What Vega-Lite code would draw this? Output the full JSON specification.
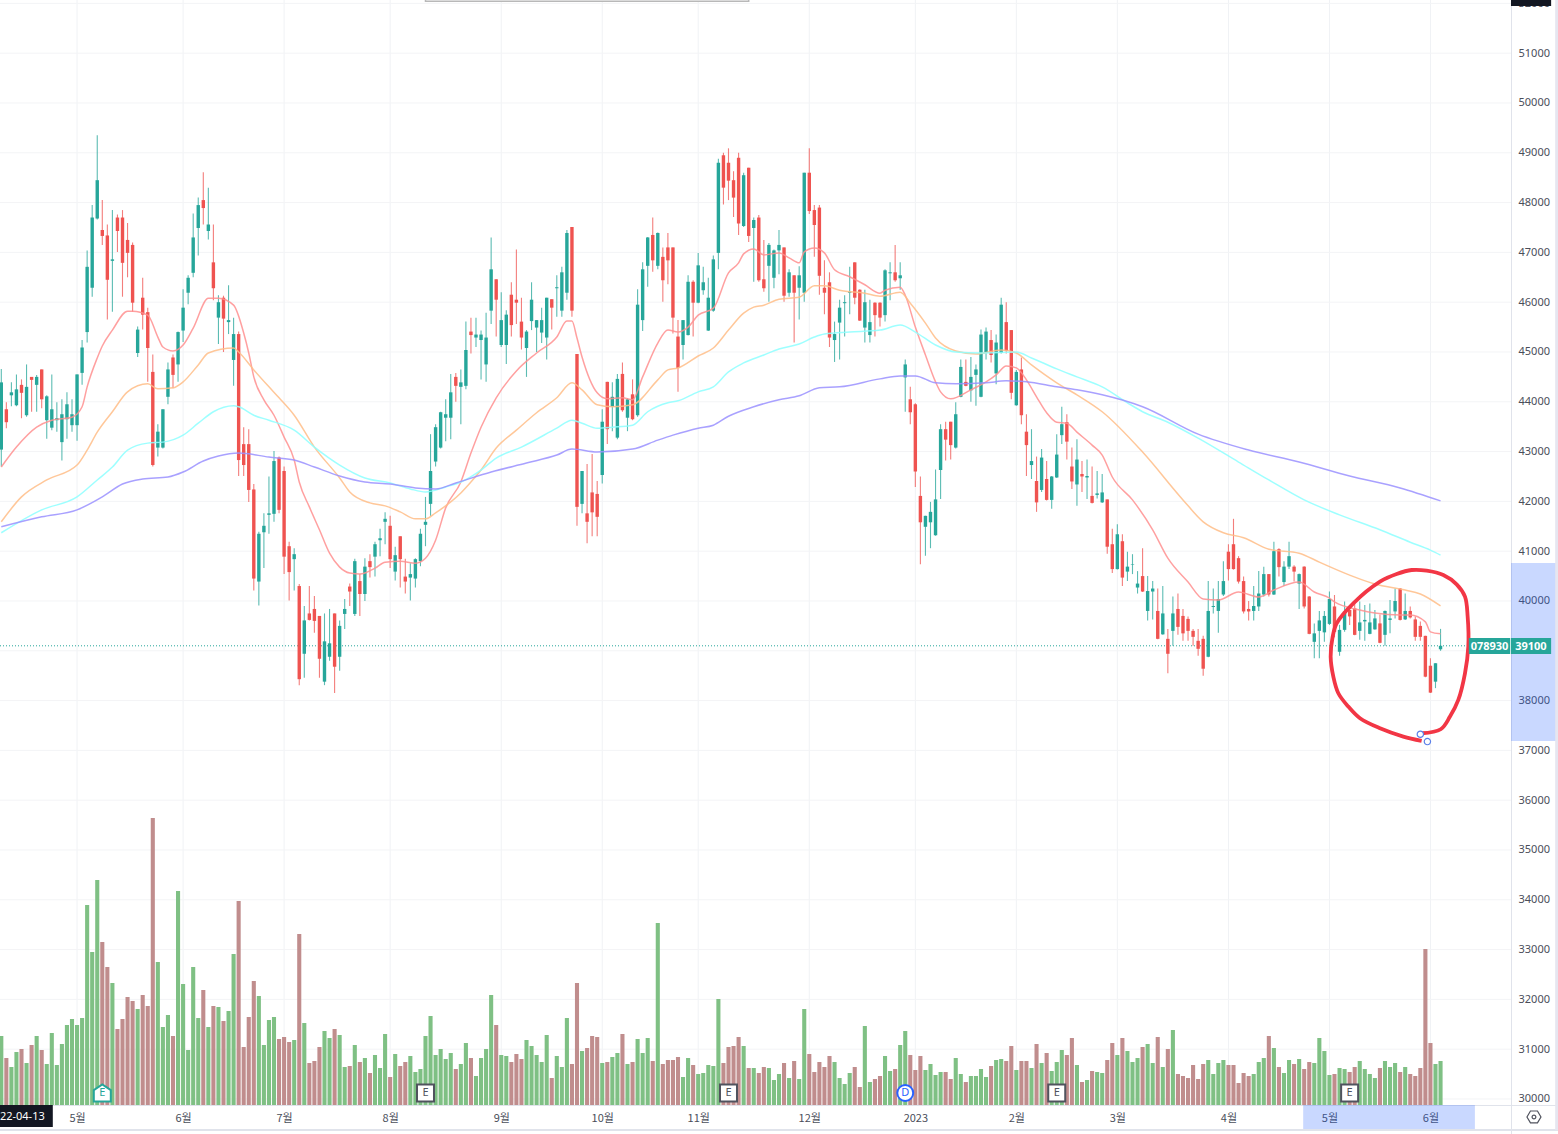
{"$schema":"https://vega.github.io/schema/vega-lite/v6.json","width":1558,"height":1134,"padding":0,"autosize":{"type":"none"},"background":"white","config":{"view":{"stroke":null}},
"datasets":{
"c":[
{"i":0,"o":43040,"h":44660,"l":42700,"c":44390,"v":69},{"i":1,"o":43850,"h":43990,"l":43470,"c":43590,"v":47},{"i":2,"o":44130,"h":44390,"l":43910,"c":44190,"v":38},{"i":3,"o":43930,"h":44550,"l":43910,"c":44250,"v":53},{"i":4,"o":44340,"h":44450,"l":43670,"c":44180,"v":56},{"i":5,"o":43730,"h":44750,"l":43700,"c":44300,"v":42},{"i":6,"o":44500,"h":44500,"l":43800,"c":44440,"v":60},{"i":7,"o":44340,"h":44540,"l":43800,"c":44500,"v":69},{"i":8,"o":44650,"h":44650,"l":43870,"c":44050,"v":55},{"i":9,"o":43630,"h":44130,"l":43260,"c":44110,"v":41},
{"i":10,"o":43480,"h":44550,"l":43430,"c":43850,"v":72},{"i":11,"o":43630,"h":43990,"l":43400,"c":43670,"v":40},{"i":12,"o":43190,"h":44050,"l":42820,"c":43750,"v":61},{"i":13,"o":43650,"h":44190,"l":43260,"c":43950,"v":80},{"i":14,"o":43530,"h":44050,"l":43400,"c":43750,"v":86},{"i":15,"o":43530,"h":44550,"l":43220,"c":44550,"v":80},{"i":16,"o":44580,"h":45240,"l":44340,"c":45090,"v":87},{"i":17,"o":45400,"h":47040,"l":45190,"c":46710,"v":200},{"i":18,"o":46290,"h":47950,"l":46110,"c":47700,"v":153},{"i":19,"o":47680,"h":49350,"l":47660,"c":48450,"v":225},
{"i":20,"o":47450,"h":48050,"l":47150,"c":47330,"v":163},{"i":21,"o":47340,"h":47560,"l":45650,"c":46450,"v":138},{"i":22,"o":46830,"h":47850,"l":45810,"c":46860,"v":122},{"i":23,"o":47700,"h":47760,"l":47010,"c":47430,"v":76},{"i":24,"o":47700,"h":47850,"l":46110,"c":46790,"v":86},{"i":25,"o":47250,"h":47590,"l":46500,"c":46990,"v":108},{"i":26,"o":47150,"h":47200,"l":45810,"c":45990,"v":104},{"i":27,"o":44980,"h":45510,"l":44900,"c":45450,"v":96},{"i":28,"o":46090,"h":46490,"l":45450,"c":45750,"v":110},{"i":29,"o":45800,"h":45890,"l":44400,"c":45080,"v":99},
{"i":30,"o":44600,"h":44950,"l":42700,"c":42730,"v":287},{"i":31,"o":43080,"h":43550,"l":42900,"c":43400,"v":143},{"i":32,"o":43080,"h":43850,"l":43060,"c":43850,"v":78},{"i":33,"o":44100,"h":44790,"l":43950,"c":44650,"v":90},{"i":34,"o":44890,"h":44950,"l":44270,"c":44540,"v":69},{"i":35,"o":44750,"h":45410,"l":44400,"c":45400,"v":214},{"i":36,"o":45430,"h":46260,"l":45200,"c":45890,"v":121},{"i":37,"o":46190,"h":46540,"l":45960,"c":46490,"v":55},{"i":38,"o":46590,"h":47780,"l":46500,"c":47300,"v":138},{"i":39,"o":47490,"h":48100,"l":46940,"c":47950,"v":87},
{"i":40,"o":48050,"h":48610,"l":47560,"c":47890,"v":115},{"i":41,"o":47430,"h":48300,"l":47260,"c":47560,"v":78},{"i":42,"o":46800,"h":47560,"l":46040,"c":46280,"v":99},{"i":43,"o":45690,"h":46140,"l":45160,"c":46000,"v":98},{"i":44,"o":46090,"h":46130,"l":45000,"c":45670,"v":84},{"i":45,"o":45600,"h":46340,"l":45360,"c":45640,"v":94},{"i":46,"o":44840,"h":45690,"l":44320,"c":45360,"v":151},{"i":47,"o":45360,"h":45410,"l":42510,"c":42830,"v":204},{"i":48,"o":43150,"h":43490,"l":42510,"c":42730,"v":58},{"i":49,"o":43150,"h":43450,"l":41990,"c":42230,"v":88},
{"i":50,"o":42240,"h":42350,"l":40210,"c":40450,"v":124},{"i":51,"o":40390,"h":41390,"l":39910,"c":41350,"v":109},{"i":52,"o":41380,"h":41760,"l":40660,"c":41510,"v":60},{"i":53,"o":41730,"h":42500,"l":41350,"c":41760,"v":85},{"i":54,"o":41750,"h":43010,"l":41590,"c":42810,"v":88},{"i":55,"o":42880,"h":42900,"l":41760,"c":41830,"v":66},{"i":56,"o":42610,"h":42700,"l":40540,"c":40890,"v":68},{"i":57,"o":41100,"h":41190,"l":40010,"c":40580,"v":63},{"i":58,"o":40840,"h":41060,"l":40210,"c":40940,"v":65},{"i":59,"o":40300,"h":40340,"l":38310,"c":38430,"v":171},
{"i":60,"o":38940,"h":39900,"l":38460,"c":39610,"v":82},{"i":61,"o":39750,"h":40300,"l":39610,"c":39620,"v":42},{"i":62,"o":39840,"h":40100,"l":39360,"c":39600,"v":44},{"i":63,"o":39700,"h":39700,"l":38460,"c":38840,"v":58},{"i":64,"o":38380,"h":39750,"l":38310,"c":39190,"v":74},{"i":65,"o":38880,"h":39840,"l":38800,"c":39150,"v":67},{"i":66,"o":39750,"h":39750,"l":38150,"c":38680,"v":76},{"i":67,"o":38880,"h":39610,"l":38600,"c":39500,"v":70},{"i":68,"o":39740,"h":40040,"l":39440,"c":39840,"v":38},{"i":69,"o":40290,"h":40350,"l":39900,"c":40190,"v":39},
{"i":70,"o":39740,"h":40850,"l":39700,"c":40800,"v":60},{"i":71,"o":40400,"h":40540,"l":39700,"c":40140,"v":43},{"i":72,"o":40140,"h":40860,"l":40000,"c":40690,"v":47},{"i":73,"o":40800,"h":40940,"l":40470,"c":40680,"v":32},{"i":74,"o":40890,"h":41190,"l":40490,"c":41140,"v":50},{"i":75,"o":41220,"h":41450,"l":40900,"c":41260,"v":37},{"i":76,"o":41590,"h":41780,"l":41140,"c":41650,"v":71},{"i":77,"o":41510,"h":41710,"l":40660,"c":40840,"v":28},{"i":78,"o":40590,"h":41090,"l":40410,"c":40920,"v":51},{"i":79,"o":41300,"h":41300,"l":40270,"c":40840,"v":39},
{"i":80,"o":40490,"h":40850,"l":40150,"c":40390,"v":43},{"i":81,"o":40470,"h":40760,"l":40010,"c":40540,"v":49},{"i":82,"o":40450,"h":40860,"l":40270,"c":40840,"v":33},{"i":83,"o":40800,"h":41450,"l":40700,"c":41350,"v":36},{"i":84,"o":41530,"h":42090,"l":41100,"c":41590,"v":69},{"i":85,"o":41950,"h":43350,"l":41710,"c":42610,"v":89},{"i":86,"o":42800,"h":43550,"l":42700,"c":43490,"v":50},{"i":87,"o":43080,"h":43800,"l":43060,"c":43790,"v":56},{"i":88,"o":43680,"h":44050,"l":43210,"c":43750,"v":46},{"i":89,"o":43680,"h":44560,"l":43250,"c":44190,"v":52},
{"i":90,"o":44500,"h":44580,"l":44000,"c":44320,"v":36},{"i":91,"o":44300,"h":44650,"l":43550,"c":44390,"v":41},{"i":92,"o":44320,"h":45610,"l":44250,"c":45040,"v":62},{"i":93,"o":45410,"h":45690,"l":44970,"c":45340,"v":47},{"i":94,"o":45290,"h":45690,"l":45100,"c":45350,"v":29},{"i":95,"o":45240,"h":45430,"l":44450,"c":45350,"v":47},{"i":96,"o":44750,"h":45790,"l":44400,"c":45290,"v":56},{"i":97,"o":45830,"h":47300,"l":45560,"c":46660,"v":110},{"i":98,"o":46460,"h":46460,"l":45310,"c":46050,"v":80},{"i":99,"o":45140,"h":46200,"l":45100,"c":45640,"v":50},
{"i":100,"o":45140,"h":45840,"l":44760,"c":45750,"v":49},{"i":101,"o":46150,"h":46400,"l":45310,"c":45540,"v":43},{"i":102,"o":46050,"h":47060,"l":45560,"c":45990,"v":51},{"i":103,"o":45610,"h":46090,"l":45050,"c":45290,"v":46},{"i":104,"o":45080,"h":45440,"l":44500,"c":45410,"v":65},{"i":105,"o":45620,"h":46400,"l":45440,"c":46050,"v":59},{"i":106,"o":45490,"h":45640,"l":45000,"c":45640,"v":50},{"i":107,"o":45390,"h":45890,"l":45180,"c":45640,"v":43},{"i":108,"o":45290,"h":46090,"l":44850,"c":46090,"v":70},{"i":109,"o":46060,"h":46060,"l":45450,"c":45890,"v":27},
{"i":110,"o":46280,"h":46540,"l":45710,"c":46300,"v":49},{"i":111,"o":45830,"h":46710,"l":45710,"c":46600,"v":38},{"i":112,"o":46190,"h":47450,"l":46050,"c":47390,"v":87},{"i":113,"o":47510,"h":47510,"l":45710,"c":45830,"v":41},{"i":114,"o":44960,"h":44960,"l":41510,"c":41890,"v":122},{"i":115,"o":41950,"h":42610,"l":41760,"c":42610,"v":54},{"i":116,"o":41760,"h":42750,"l":41160,"c":41590,"v":57},{"i":117,"o":42180,"h":42950,"l":41300,"c":41780,"v":69},{"i":118,"o":42150,"h":42410,"l":41300,"c":41690,"v":68},{"i":119,"o":42530,"h":43850,"l":42360,"c":43600,"v":42},
{"i":120,"o":44400,"h":44400,"l":43150,"c":43450,"v":43},{"i":121,"o":43900,"h":44390,"l":43410,"c":44100,"v":48},{"i":122,"o":43280,"h":44560,"l":43250,"c":44460,"v":52},{"i":123,"o":44560,"h":44790,"l":43800,"c":43830,"v":71},{"i":124,"o":43680,"h":44070,"l":43410,"c":44050,"v":41},{"i":125,"o":44150,"h":44450,"l":43630,"c":43650,"v":43},{"i":126,"o":43730,"h":46260,"l":43700,"c":45950,"v":66},{"i":127,"o":45640,"h":46800,"l":45420,"c":46660,"v":52},{"i":128,"o":46730,"h":47310,"l":46310,"c":47300,"v":67},{"i":129,"o":47350,"h":47700,"l":46610,"c":46840,"v":44},
{"i":130,"o":46730,"h":47400,"l":46660,"c":47390,"v":182},{"i":131,"o":46910,"h":47100,"l":46010,"c":46440,"v":41},{"i":132,"o":47100,"h":47390,"l":46360,"c":46840,"v":45},{"i":133,"o":47100,"h":47100,"l":45370,"c":45690,"v":45},{"i":134,"o":45310,"h":45640,"l":44200,"c":44680,"v":48},{"i":135,"o":45140,"h":45640,"l":44850,"c":45640,"v":28},{"i":136,"o":45340,"h":46540,"l":45330,"c":46410,"v":47},{"i":137,"o":46410,"h":46440,"l":45310,"c":45990,"v":40},{"i":138,"o":45990,"h":46990,"l":45980,"c":46740,"v":31},{"i":139,"o":46240,"h":46710,"l":46150,"c":46400,"v":32},
{"i":140,"o":45430,"h":46490,"l":45420,"c":46090,"v":40},{"i":141,"o":45830,"h":46940,"l":45810,"c":46860,"v":39},{"i":142,"o":46990,"h":48880,"l":46660,"c":48800,"v":106},{"i":143,"o":48950,"h":49000,"l":47960,"c":48300,"v":42},{"i":144,"o":48800,"h":49090,"l":48050,"c":48440,"v":58},{"i":145,"o":48450,"h":48630,"l":47710,"c":48100,"v":59},{"i":146,"o":48900,"h":49000,"l":47350,"c":47580,"v":68},{"i":147,"o":47530,"h":48600,"l":47510,"c":48550,"v":59},{"i":148,"o":48700,"h":48700,"l":47210,"c":47330,"v":37},{"i":149,"o":47490,"h":47700,"l":46410,"c":47650,"v":37},
{"i":150,"o":47700,"h":47750,"l":46410,"c":46440,"v":32},{"i":151,"o":46460,"h":47250,"l":46210,"c":46280,"v":38},{"i":152,"o":46730,"h":47190,"l":46010,"c":47150,"v":37},{"i":153,"o":46490,"h":47060,"l":46280,"c":47040,"v":25},{"i":154,"o":47040,"h":47450,"l":46560,"c":47150,"v":31},{"i":155,"o":47100,"h":47100,"l":46010,"c":46130,"v":42},{"i":156,"o":46190,"h":46660,"l":46110,"c":46600,"v":27},{"i":157,"o":46540,"h":46540,"l":45190,"c":46190,"v":44},{"i":158,"o":46290,"h":46720,"l":45650,"c":46540,"v":26},{"i":159,"o":46190,"h":48600,"l":46010,"c":48600,"v":96},
{"i":160,"o":48600,"h":49090,"l":47770,"c":47830,"v":51},{"i":161,"o":47850,"h":47950,"l":46910,"c":47550,"v":33},{"i":162,"o":47900,"h":47950,"l":46150,"c":46530,"v":43},{"i":163,"o":46290,"h":46840,"l":45760,"c":46190,"v":38},{"i":164,"o":46400,"h":46600,"l":45100,"c":45290,"v":49},{"i":165,"o":45240,"h":45610,"l":44800,"c":45360,"v":43},{"i":166,"o":45590,"h":46050,"l":44850,"c":45890,"v":27},{"i":167,"o":45980,"h":46140,"l":45310,"c":46000,"v":21},{"i":168,"o":46190,"h":46710,"l":45760,"c":46210,"v":32},{"i":169,"o":46800,"h":46800,"l":45960,"c":46090,"v":38},
{"i":170,"o":46250,"h":46260,"l":45620,"c":45630,"v":18},{"i":171,"o":45490,"h":46250,"l":45190,"c":46000,"v":79},{"i":172,"o":45340,"h":46050,"l":45190,"c":45600,"v":23},{"i":173,"o":45990,"h":46000,"l":45310,"c":45740,"v":26},{"i":174,"o":45990,"h":46000,"l":45510,"c":45690,"v":29},{"i":175,"o":45740,"h":46660,"l":45610,"c":46640,"v":49},{"i":176,"o":46580,"h":46800,"l":46040,"c":46600,"v":34},{"i":177,"o":46600,"h":47150,"l":46410,"c":46440,"v":36},{"i":178,"o":46480,"h":46800,"l":46250,"c":46540,"v":60},{"i":179,"o":44490,"h":44850,"l":43800,"c":44750,"v":74},
{"i":180,"o":44050,"h":44300,"l":43550,"c":43790,"v":50},{"i":181,"o":43950,"h":43970,"l":42290,"c":42600,"v":35},{"i":182,"o":42110,"h":42500,"l":40740,"c":41580,"v":49},{"i":183,"o":41490,"h":41710,"l":40910,"c":41710,"v":35},{"i":184,"o":41580,"h":41990,"l":41060,"c":41790,"v":41},{"i":185,"o":41320,"h":42640,"l":41310,"c":42040,"v":30},{"i":186,"o":42630,"h":43550,"l":42050,"c":43450,"v":33},{"i":187,"o":43450,"h":43600,"l":42820,"c":43240,"v":33},{"i":188,"o":43600,"h":43600,"l":42840,"c":43130,"v":26},{"i":189,"o":43080,"h":43990,"l":43060,"c":43750,"v":47},
{"i":190,"o":44100,"h":44850,"l":44090,"c":44700,"v":31},{"i":191,"o":44400,"h":44850,"l":44310,"c":44320,"v":23},{"i":192,"o":44230,"h":44900,"l":44000,"c":44500,"v":29},{"i":193,"o":44540,"h":44750,"l":43920,"c":44650,"v":29},{"i":194,"o":44100,"h":45450,"l":44090,"c":45350,"v":36},{"i":195,"o":44980,"h":45490,"l":44850,"c":45410,"v":28},{"i":196,"o":45240,"h":45440,"l":44790,"c":44940,"v":39},{"i":197,"o":44570,"h":45350,"l":44350,"c":45190,"v":45},{"i":198,"o":44980,"h":46090,"l":44970,"c":45950,"v":46},{"i":199,"o":45600,"h":46000,"l":44970,"c":45020,"v":44},
{"i":200,"o":45440,"h":45440,"l":44050,"c":44180,"v":59},{"i":201,"o":43930,"h":44640,"l":43920,"c":44600,"v":35},{"i":202,"o":44650,"h":44890,"l":43550,"c":43730,"v":44},{"i":203,"o":43400,"h":43750,"l":42510,"c":43130,"v":44},{"i":204,"o":42730,"h":43450,"l":42450,"c":42810,"v":37},{"i":205,"o":42410,"h":42900,"l":41790,"c":41980,"v":61},{"i":206,"o":42230,"h":43050,"l":42190,"c":42880,"v":42},{"i":207,"o":42450,"h":42810,"l":42020,"c":42030,"v":52},{"i":208,"o":42030,"h":42510,"l":41850,"c":42500,"v":34},{"i":209,"o":42480,"h":43350,"l":42470,"c":42940,"v":43},
{"i":210,"o":43330,"h":43900,"l":43150,"c":43550,"v":55},{"i":211,"o":43590,"h":43750,"l":42840,"c":43200,"v":50},{"i":212,"o":42700,"h":43080,"l":42250,"c":42400,"v":67},{"i":213,"o":42340,"h":43250,"l":41910,"c":42840,"v":40},{"i":214,"o":42550,"h":42810,"l":42190,"c":42500,"v":23},{"i":215,"o":42480,"h":42840,"l":42050,"c":42510,"v":25},{"i":216,"o":42110,"h":42700,"l":41960,"c":41970,"v":34},{"i":217,"o":42130,"h":42610,"l":42060,"c":42160,"v":33},{"i":218,"o":41980,"h":42550,"l":41970,"c":42180,"v":32},{"i":219,"o":42040,"h":42040,"l":40950,"c":41090,"v":45},
{"i":220,"o":41140,"h":41450,"l":40560,"c":40640,"v":62},{"i":221,"o":40640,"h":41540,"l":40630,"c":41340,"v":50},{"i":222,"o":41200,"h":41340,"l":40300,"c":40470,"v":67},{"i":223,"o":40590,"h":40990,"l":40400,"c":40690,"v":54},{"i":224,"o":40730,"h":40940,"l":40540,"c":40740,"v":43},{"i":225,"o":40270,"h":40600,"l":40150,"c":40350,"v":47},{"i":226,"o":40500,"h":41060,"l":40180,"c":40190,"v":58},{"i":227,"o":39800,"h":40500,"l":39610,"c":40200,"v":61},{"i":228,"o":40190,"h":40400,"l":39630,"c":40250,"v":42},{"i":229,"o":39800,"h":40250,"l":39230,"c":39240,"v":68},
{"i":230,"o":39330,"h":40300,"l":39320,"c":39750,"v":38},{"i":231,"o":39240,"h":39440,"l":38550,"c":38940,"v":56},{"i":232,"o":39400,"h":40090,"l":39100,"c":39750,"v":75},{"i":233,"o":39840,"h":40150,"l":39320,"c":39480,"v":31},{"i":234,"o":39700,"h":39840,"l":39200,"c":39350,"v":29},{"i":235,"o":39640,"h":39690,"l":39200,"c":39400,"v":27},{"i":236,"o":39400,"h":39440,"l":39100,"c":39280,"v":40},{"i":237,"o":39200,"h":39440,"l":38900,"c":39040,"v":26},{"i":238,"o":39240,"h":39300,"l":38500,"c":38640,"v":41},{"i":239,"o":38880,"h":40400,"l":38870,"c":39800,"v":45},
{"i":240,"o":39880,"h":40250,"l":39750,"c":39900,"v":31},{"i":241,"o":39800,"h":40400,"l":39360,"c":40040,"v":42},{"i":242,"o":40130,"h":40800,"l":40100,"c":40400,"v":45},{"i":243,"o":40990,"h":41140,"l":40410,"c":40640,"v":40},{"i":244,"o":41140,"h":41650,"l":40630,"c":40640,"v":40},{"i":245,"o":40860,"h":40900,"l":40350,"c":40390,"v":22},{"i":246,"o":40400,"h":40490,"l":39750,"c":39790,"v":32},{"i":247,"o":39840,"h":40000,"l":39610,"c":39790,"v":29},{"i":248,"o":39800,"h":40300,"l":39610,"c":39900,"v":31},{"i":249,"o":39890,"h":40600,"l":39800,"c":40150,"v":43},
{"i":250,"o":40130,"h":40690,"l":40090,"c":40540,"v":47},{"i":251,"o":40540,"h":40540,"l":40090,"c":40130,"v":69},{"i":252,"o":40130,"h":41190,"l":40120,"c":41000,"v":57},{"i":253,"o":41040,"h":41060,"l":40490,"c":40680,"v":38},{"i":254,"o":40380,"h":40800,"l":40300,"c":40690,"v":32},{"i":255,"o":40690,"h":41190,"l":40640,"c":40900,"v":45},{"i":256,"o":40690,"h":40720,"l":40390,"c":40590,"v":41},{"i":257,"o":40350,"h":40550,"l":39840,"c":40540,"v":46},{"i":258,"o":40690,"h":40700,"l":39850,"c":39890,"v":36},{"i":259,"o":40090,"h":40100,"l":39330,"c":39340,"v":43},
{"i":260,"o":39180,"h":39550,"l":38850,"c":39350,"v":42},{"i":261,"o":39400,"h":39800,"l":38850,"c":39610,"v":67},{"i":262,"o":39370,"h":39800,"l":39180,"c":39700,"v":54},{"i":263,"o":39540,"h":40190,"l":39520,"c":40040,"v":30},{"i":264,"o":39890,"h":40120,"l":39270,"c":39380,"v":31},{"i":265,"o":38980,"h":39520,"l":38900,"c":39420,"v":37},{"i":266,"o":39420,"h":39990,"l":39380,"c":39790,"v":36},{"i":267,"o":39820,"h":39850,"l":39520,"c":39690,"v":33},{"i":268,"o":39850,"h":39950,"l":39310,"c":39320,"v":38},{"i":269,"o":39400,"h":39990,"l":39220,"c":39570,"v":44},
{"i":270,"o":39590,"h":39920,"l":39200,"c":39620,"v":36},{"i":271,"o":39340,"h":39950,"l":39330,"c":39570,"v":31},{"i":272,"o":39430,"h":39820,"l":39420,"c":39650,"v":27},{"i":273,"o":39550,"h":39730,"l":39150,"c":39160,"v":37},{"i":274,"o":39320,"h":39810,"l":39100,"c":39800,"v":44},{"i":275,"o":39620,"h":40020,"l":39350,"c":39650,"v":38},{"i":276,"o":39790,"h":40250,"l":39650,"c":40000,"v":42},{"i":277,"o":40250,"h":40260,"l":39610,"c":39620,"v":33},{"i":278,"o":39630,"h":40150,"l":39620,"c":39800,"v":38},{"i":279,"o":39800,"h":39890,"l":39650,"c":39670,"v":31},
{"i":280,"o":39630,"h":39690,"l":39200,"c":39280,"v":29},{"i":281,"o":39500,"h":39590,"l":39200,"c":39280,"v":37},{"i":282,"o":39300,"h":39300,"l":38470,"c":38480,"v":156},{"i":283,"o":38700,"h":38850,"l":38150,"c":38160,"v":62},{"i":284,"o":38380,"h":38750,"l":38250,"c":38750,"v":41},{"i":285,"o":39030,"h":39440,"l":39000,"c":39100,"v":44}
],
"ma":[
{"s":"a","i":0,"p":42690},{"s":"a","i":3,"p":43090},{"s":"a","i":7,"p":43490},{"s":"a","i":10,"p":43630},{"s":"a","i":14,"p":43690},{"s":"a","i":16,"p":43900},{"s":"a","i":17,"p":44300},{"s":"a","i":19,"p":44880},{"s":"a","i":20,"p":45120},{"s":"a","i":22,"p":45440},{"s":"a","i":25,"p":45820},{"s":"a","i":26,"p":45820},{"s":"a","i":29,"p":45740},{"s":"a","i":31,"p":45300},{"s":"a","i":32,"p":45100},{"s":"a","i":34,"p":45020},{"s":"a","i":36,"p":45140},{"s":"a","i":38,"p":45480},{"s":"a","i":41,"p":46080},{"s":"a","i":43,"p":46080},{"s":"a","i":46,"p":45940},{"s":"a","i":48,"p":45380},{"s":"a","i":49,"p":44980},{"s":"a","i":50,"p":44500},{"s":"a","i":52,"p":44040},{"s":"a","i":54,"p":43730},{"s":"a","i":56,"p":43290},{"s":"a","i":58,"p":42830},{"s":"a","i":59,"p":42390},{"s":"a","i":61,"p":41890},{"s":"a","i":63,"p":41430},{"s":"a","i":65,"p":40960},{"s":"a","i":67,"p":40680},{"s":"a","i":69,"p":40560},{"s":"a","i":71,"p":40540},{"s":"a","i":74,"p":40660},{"s":"a","i":76,"p":40780},{"s":"a","i":79,"p":40800},{"s":"a","i":82,"p":40760},{"s":"a","i":84,"p":40860},{"s":"a","i":86,"p":41220},{"s":"a","i":88,"p":41870},{"s":"a","i":91,"p":42390},{"s":"a","i":93,"p":42970},{"s":"a","i":95,"p":43490},{"s":"a","i":98,"p":44080},{"s":"a","i":102,"p":44620},{"s":"a","i":106,"p":44980},{"s":"a","i":110,"p":45300},{"s":"a","i":112,"p":45620},{"s":"a","i":113,"p":45620},{"s":"a","i":114,"p":45280},{"s":"a","i":115,"p":44900},{"s":"a","i":118,"p":44180},{"s":"a","i":120,"p":44060},{"s":"a","i":123,"p":44080},{"s":"a","i":125,"p":44040},{"s":"a","i":127,"p":44500},{"s":"a","i":130,"p":45180},{"s":"a","i":132,"p":45440},{"s":"a","i":134,"p":45400},{"s":"a","i":136,"p":45500},{"s":"a","i":138,"p":45740},{"s":"a","i":141,"p":45880},{"s":"a","i":144,"p":46590},{"s":"a","i":146,"p":46790},{"s":"a","i":147,"p":46970},{"s":"a","i":149,"p":47070},{"s":"a","i":151,"p":46950},{"s":"a","i":154,"p":46990},{"s":"a","i":156,"p":46890},{"s":"a","i":158,"p":46790},{"s":"a","i":159,"p":47010},{"s":"a","i":161,"p":47090},{"s":"a","i":163,"p":46990},{"s":"a","i":165,"p":46650},{"s":"a","i":168,"p":46510},{"s":"a","i":171,"p":46350},{"s":"a","i":174,"p":46180},{"s":"a","i":175,"p":46240},{"s":"a","i":178,"p":46300},{"s":"a","i":179,"p":46140},{"s":"a","i":181,"p":45500},{"s":"a","i":183,"p":44940},{"s":"a","i":185,"p":44400},{"s":"a","i":186,"p":44200},{"s":"a","i":188,"p":44060},{"s":"a","i":192,"p":44240},{"s":"a","i":195,"p":44400},{"s":"a","i":197,"p":44540},{"s":"a","i":199,"p":44720},{"s":"a","i":201,"p":44680},{"s":"a","i":203,"p":44440},{"s":"a","i":205,"p":44100},{"s":"a","i":207,"p":43780},{"s":"a","i":209,"p":43590},{"s":"a","i":211,"p":43570},{"s":"a","i":213,"p":43390},{"s":"a","i":216,"p":43130},{"s":"a","i":218,"p":42930},{"s":"a","i":220,"p":42490},{"s":"a","i":224,"p":42030},{"s":"a","i":228,"p":41430},{"s":"a","i":231,"p":40860},{"s":"a","i":235,"p":40380},{"s":"a","i":238,"p":40040},{"s":"a","i":241,"p":40020},{"s":"a","i":245,"p":40180},{"s":"a","i":249,"p":40080},{"s":"a","i":252,"p":40220},{"s":"a","i":257,"p":40380},{"s":"a","i":260,"p":40180},{"s":"a","i":263,"p":40060},{"s":"a","i":264,"p":39980},{"s":"a","i":269,"p":39820},{"s":"a","i":272,"p":39760},{"s":"a","i":277,"p":39720},{"s":"a","i":279,"p":39720},{"s":"a","i":282,"p":39580},{"s":"a","i":283,"p":39380},{"s":"a","i":285,"p":39340},
{"s":"b","i":0,"p":41590},{"s":"b","i":4,"p":42090},{"s":"b","i":9,"p":42430},{"s":"b","i":15,"p":42730},{"s":"b","i":17,"p":43030},{"s":"b","i":19,"p":43390},{"s":"b","i":22,"p":43800},{"s":"b","i":25,"p":44200},{"s":"b","i":29,"p":44360},{"s":"b","i":31,"p":44260},{"s":"b","i":34,"p":44280},{"s":"b","i":36,"p":44400},{"s":"b","i":39,"p":44740},{"s":"b","i":41,"p":44980},{"s":"b","i":46,"p":45080},{"s":"b","i":47,"p":45000},{"s":"b","i":50,"p":44640},{"s":"b","i":53,"p":44300},{"s":"b","i":55,"p":44080},{"s":"b","i":58,"p":43730},{"s":"b","i":62,"p":43090},{"s":"b","i":67,"p":42470},{"s":"b","i":69,"p":42190},{"s":"b","i":73,"p":41970},{"s":"b","i":76,"p":41910},{"s":"b","i":79,"p":41790},{"s":"b","i":82,"p":41650},{"s":"b","i":84,"p":41650},{"s":"b","i":86,"p":41770},{"s":"b","i":89,"p":41990},{"s":"b","i":91,"p":42170},{"s":"b","i":93,"p":42390},{"s":"b","i":95,"p":42630},{"s":"b","i":98,"p":43070},{"s":"b","i":102,"p":43430},{"s":"b","i":106,"p":43780},{"s":"b","i":110,"p":44080},{"s":"b","i":113,"p":44380},{"s":"b","i":115,"p":44240},{"s":"b","i":118,"p":43940},{"s":"b","i":121,"p":43900},{"s":"b","i":125,"p":43940},{"s":"b","i":130,"p":44440},{"s":"b","i":132,"p":44640},{"s":"b","i":134,"p":44680},{"s":"b","i":138,"p":44920},{"s":"b","i":141,"p":45080},{"s":"b","i":144,"p":45440},{"s":"b","i":147,"p":45780},{"s":"b","i":149,"p":45900},{"s":"b","i":151,"p":45940},{"s":"b","i":154,"p":46060},{"s":"b","i":158,"p":46100},{"s":"b","i":161,"p":46330},{"s":"b","i":163,"p":46330},{"s":"b","i":166,"p":46240},{"s":"b","i":171,"p":46180},{"s":"b","i":174,"p":46120},{"s":"b","i":178,"p":46200},{"s":"b","i":180,"p":45980},{"s":"b","i":183,"p":45580},{"s":"b","i":185,"p":45280},{"s":"b","i":189,"p":45020},{"s":"b","i":193,"p":44960},{"s":"b","i":198,"p":45040},{"s":"b","i":201,"p":44980},{"s":"b","i":204,"p":44740},{"s":"b","i":209,"p":44380},{"s":"b","i":213,"p":44140},{"s":"b","i":218,"p":43800},{"s":"b","i":226,"p":42990},{"s":"b","i":234,"p":42030},{"s":"b","i":238,"p":41590},{"s":"b","i":242,"p":41370},{"s":"b","i":246,"p":41270},{"s":"b","i":251,"p":41040},{"s":"b","i":257,"p":40960},{"s":"b","i":261,"p":40780},{"s":"b","i":267,"p":40520},{"s":"b","i":272,"p":40340},{"s":"b","i":278,"p":40220},{"s":"b","i":281,"p":40140},{"s":"b","i":285,"p":39900},
{"s":"d","i":0,"p":41370},{"s":"d","i":8,"p":41830},{"s":"d","i":15,"p":42090},{"s":"d","i":19,"p":42430},{"s":"d","i":22,"p":42690},{"s":"d","i":25,"p":43030},{"s":"d","i":29,"p":43170},{"s":"d","i":32,"p":43190},{"s":"d","i":36,"p":43330},{"s":"d","i":39,"p":43570},{"s":"d","i":42,"p":43800},{"s":"d","i":46,"p":43920},{"s":"d","i":47,"p":43900},{"s":"d","i":50,"p":43730},{"s":"d","i":53,"p":43630},{"s":"d","i":58,"p":43430},{"s":"d","i":62,"p":43090},{"s":"d","i":67,"p":42730},{"s":"d","i":72,"p":42470},{"s":"d","i":77,"p":42370},{"s":"d","i":81,"p":42250},{"s":"d","i":84,"p":42190},{"s":"d","i":88,"p":42290},{"s":"d","i":91,"p":42390},{"s":"d","i":95,"p":42630},{"s":"d","i":98,"p":42870},{"s":"d","i":103,"p":43090},{"s":"d","i":110,"p":43470},{"s":"d","i":113,"p":43630},{"s":"d","i":115,"p":43570},{"s":"d","i":118,"p":43470},{"s":"d","i":121,"p":43490},{"s":"d","i":125,"p":43530},{"s":"d","i":128,"p":43800},{"s":"d","i":132,"p":43980},{"s":"d","i":134,"p":44020},{"s":"d","i":138,"p":44200},{"s":"d","i":141,"p":44300},{"s":"d","i":144,"p":44600},{"s":"d","i":147,"p":44780},{"s":"d","i":151,"p":44940},{"s":"d","i":154,"p":45060},{"s":"d","i":158,"p":45160},{"s":"d","i":161,"p":45300},{"s":"d","i":163,"p":45360},{"s":"d","i":168,"p":45400},{"s":"d","i":174,"p":45440},{"s":"d","i":178,"p":45540},{"s":"d","i":181,"p":45400},{"s":"d","i":185,"p":45140},{"s":"d","i":189,"p":45000},{"s":"d","i":194,"p":44980},{"s":"d","i":201,"p":45000},{"s":"d","i":204,"p":44880},{"s":"d","i":209,"p":44660},{"s":"d","i":213,"p":44500},{"s":"d","i":218,"p":44300},{"s":"d","i":223,"p":43980},{"s":"d","i":226,"p":43800},{"s":"d","i":231,"p":43590},{"s":"d","i":237,"p":43270},{"s":"d","i":245,"p":42790},{"s":"d","i":251,"p":42430},{"s":"d","i":258,"p":42030},{"s":"d","i":265,"p":41730},{"s":"d","i":273,"p":41430},{"s":"d","i":279,"p":41180},{"s":"d","i":283,"p":41020},{"s":"d","i":285,"p":40920},
{"s":"e","i":0,"p":41490},{"s":"e","i":8,"p":41690},{"s":"e","i":15,"p":41830},{"s":"e","i":20,"p":42090},{"s":"e","i":24,"p":42350},{"s":"e","i":28,"p":42450},{"s":"e","i":33,"p":42490},{"s":"e","i":36,"p":42590},{"s":"e","i":40,"p":42810},{"s":"e","i":43,"p":42910},{"s":"e","i":47,"p":42970},{"s":"e","i":53,"p":42890},{"s":"e","i":58,"p":42830},{"s":"e","i":62,"p":42690},{"s":"e","i":67,"p":42510},{"s":"e","i":72,"p":42390},{"s":"e","i":77,"p":42350},{"s":"e","i":82,"p":42270},{"s":"e","i":86,"p":42250},{"s":"e","i":90,"p":42370},{"s":"e","i":97,"p":42590},{"s":"e","i":104,"p":42770},{"s":"e","i":110,"p":42930},{"s":"e","i":113,"p":43050},{"s":"e","i":118,"p":42990},{"s":"e","i":125,"p":43050},{"s":"e","i":130,"p":43230},{"s":"e","i":133,"p":43330},{"s":"e","i":138,"p":43470},{"s":"e","i":141,"p":43530},{"s":"e","i":144,"p":43710},{"s":"e","i":149,"p":43900},{"s":"e","i":154,"p":44040},{"s":"e","i":158,"p":44120},{"s":"e","i":162,"p":44280},{"s":"e","i":166,"p":44300},{"s":"e","i":174,"p":44460},{"s":"e","i":178,"p":44520},{"s":"e","i":181,"p":44520},{"s":"e","i":185,"p":44380},{"s":"e","i":189,"p":44360},{"s":"e","i":195,"p":44380},{"s":"e","i":199,"p":44420},{"s":"e","i":203,"p":44400},{"s":"e","i":209,"p":44300},{"s":"e","i":213,"p":44240},{"s":"e","i":218,"p":44140},{"s":"e","i":226,"p":43900},{"s":"e","i":237,"p":43350},{"s":"e","i":247,"p":43030},{"s":"e","i":257,"p":42790},{"s":"e","i":267,"p":42510},{"s":"e","i":277,"p":42270},{"s":"e","i":285,"p":42010}
],
"circle":[
{"o":1,"i":281.26,"p":37190},{"o":2,"i":277.63,"p":37277},{"o":3,"i":273.01,"p":37444},{"o":4,"i":269.05,"p":37645},{"o":5,"i":266.74,"p":37879},{"o":6,"i":264.76,"p":38147},{"o":7,"i":263.77,"p":38481},{"o":8,"i":263.24,"p":38883},{"o":9,"i":263.64,"p":39284},{"o":10,"i":264.43,"p":39552},{"o":11,"i":267.73,"p":39953},{"o":12,"i":273.01,"p":40388},{"o":13,"i":276.31,"p":40542},{"o":14,"i":279.28,"p":40622},{"o":15,"i":282.25,"p":40609},{"o":16,"i":285.55,"p":40522},{"o":17,"i":288.19,"p":40335},{"o":18,"i":289.84,"p":40087},{"o":19,"i":290.37,"p":39686},{"o":20,"i":290.5,"p":39083},{"o":21,"i":289.84,"p":38548},{"o":22,"i":288.52,"p":38013},{"o":23,"i":286.87,"p":37679},{"o":24,"i":285.03,"p":37424},{"o":25,"i":281.26,"p":37344}
],
"gridY":[{"p":30000},{"p":31000},{"p":32000},{"p":33000},{"p":34000},{"p":35000},{"p":36000},{"p":37000},{"p":38000},{"p":39000},{"p":40000},{"p":41000},{"p":42000},{"p":43000},{"p":44000},{"p":45000},{"p":46000},{"p":47000},{"p":48000},{"p":49000},{"p":50000},{"p":51000},{"p":52000}],
"gridX":[{"i":15},{"i":36},{"i":56},{"i":77},{"i":99},{"i":119},{"i":138},{"i":160},{"i":181},{"i":201},{"i":221},{"i":243},{"i":263},{"i":283}]
},
"layer":[
{"layer":[
{"data":{"name":"gridX"},"mark":{"type":"rule","color":"#f0f2f5","strokeWidth":1},
"encoding":{"x":{"field":"i","type":"quantitative","scale":{"domain":[-0.257,308.26],"nice":false,"zero":false},
"axis":{"orient":"bottom","offset":-29,"values":[15,36,56,77,99,119,138,160,181,201,221,243,263,283],"title":null,"grid":false,"ticks":false,"domainColor":"#e0e3eb","labelPadding":7,"labelFont":"Noto Sans CJK KR","labelFontSize":11,"labelColor":"#4a4e5a","labelOverlap":false,"labelFlush":false,"labelExpr":"{'15':'5월','36':'6월','56':'7월','77':'8월','99':'9월','119':'10월','138':'11월','160':'12월','181':'2023','201':'2월','221':'3월','243':'4월','263':'5월','283':'6월'}[''+datum.value]"}},
"y":{"datum":29880,"type":"quantitative","scale":{"domain":[29297,52068],"nice":false,"zero":false},
"axis":{"orient":"right","offset":-47,"values":[30000,31000,32000,33000,34000,35000,36000,37000,38000,39000,40000,41000,42000,43000,44000,45000,46000,47000,48000,49000,50000,51000,52000],"title":null,"grid":false,"ticks":false,"domainColor":"#e0e3eb","labelPadding":7,"labelFont":"Noto Sans","labelFontSize":11,"labelColor":"#4a4e5a","format":"d","labelOverlap":false,"labelFlush":false}},
"y2":{"datum":52068}}},
{"data":{"name":"gridY"},"mark":{"type":"rule","color":"#f3f4f6","strokeWidth":1},
"encoding":{"y":{"field":"p","type":"quantitative"},"x":{"datum":-0.257,"type":"quantitative"},"x2":{"datum":298.95}}},
{"data":{"values":[{"a":298.95,"b":308.26,"lo":37189,"hi":40763},{"a":257.8,"b":291.8,"lo":29378,"hi":29880}]},"mark":{"type":"rect","color":"#2962ff","opacity":0.25},
"encoding":{"x":{"field":"a","type":"quantitative"},"x2":{"field":"b"},"y":{"field":"lo","type":"quantitative"},"y2":{"field":"hi"}}}
]},
{"data":{"name":"c"},"mark":{"type":"rule","strokeWidth":4.1},
"encoding":{"x":{"field":"i","type":"quantitative"},
"y":{"field":"v","type":"quantitative","scale":{"domain":[0,1105],"range":[1105,0],"nice":false,"zero":false},"axis":null},
"y2":{"datum":0},
"color":{"condition":{"test":"datum.c>=datum.o","value":"#7fc084"},"value":"#c08d8d"}}},
{"layer":[
{"data":{"values":[{"p":39100}]},"mark":{"type":"rule","color":"#26a69a","strokeWidth":1,"strokeDash":[1,2]},
"encoding":{"y":{"field":"p","type":"quantitative","scale":{"domain":[29297,52068],"nice":false,"zero":false},"axis":null},"x":{"datum":-0.257,"type":"quantitative"},"x2":{"datum":290.6}}},
{"data":{"name":"c"},"mark":{"type":"rule","strokeWidth":1.1,"opacity":0.75},
"encoding":{"x":{"field":"i","type":"quantitative"},"y":{"field":"l","type":"quantitative"},"y2":{"field":"h"},"color":{"condition":{"test":"datum.c>=datum.o","value":"#26a69a"},"value":"#ef5350"}}},
{"data":{"name":"c"},"mark":{"type":"rule","strokeWidth":3.4},
"encoding":{"x":{"field":"i","type":"quantitative"},"y":{"field":"o","type":"quantitative"},"y2":{"field":"c"},"color":{"condition":{"test":"datum.c>=datum.o","value":"#26a69a"},"value":"#ef5350"}}},
{"data":{"name":"ma"},"mark":{"type":"line","strokeWidth":1.5,"interpolate":"monotone","opacity":0.85},
"encoding":{"x":{"field":"i","type":"quantitative"},"y":{"field":"p","type":"quantitative"},"color":{"field":"s","type":"nominal","legend":null,"scale":{"domain":["a","b","d","e"],"range":["#ff8f8f","#ffbd87","#8dffff","#9a90ff"]}}}},
{"data":{"name":"circle"},"mark":{"type":"line","color":"#f23645","strokeWidth":3.8,"interpolate":"catmull-rom"},
"encoding":{"x":{"field":"i","type":"quantitative"},"y":{"field":"p","type":"quantitative"},"order":{"field":"o"}}},
{"data":{"values":[{"i":281,"p":37324},{"i":282.4,"p":37177}]},"mark":{"type":"point","shape":"circle","size":40,"filled":true,"fill":"white","stroke":"#5b7fe8","strokeWidth":1.2,"opacity":1},
"encoding":{"x":{"field":"i","type":"quantitative"},"y":{"field":"p","type":"quantitative"}}},
{"data":{"values":[{"i":20,"p":30120}]},"mark":{"type":"point","shape":"M -1 -0.35 L 0 -1 L 1 -0.35 L 1 1 L -1 1 Z","size":289,"filled":true,"fill":"white","stroke":"#26a69a","strokeWidth":2,"opacity":1},
"encoding":{"x":{"field":"i","type":"quantitative"},"y":{"field":"p","type":"quantitative"}}},
{"data":{"values":[{"i":84,"p":30120},{"i":144,"p":30120},{"i":209,"p":30120},{"i":267,"p":30120}]},"mark":{"type":"point","shape":"square","size":289,"filled":true,"fill":"white","stroke":"#50535e","strokeWidth":2,"opacity":1},
"encoding":{"x":{"field":"i","type":"quantitative"},"y":{"field":"p","type":"quantitative"}}},
{"data":{"values":[{"i":179,"p":30120}]},"mark":{"type":"point","shape":"circle","size":254,"filled":true,"fill":"white","stroke":"#2962ff","strokeWidth":2,"opacity":1},
"encoding":{"x":{"field":"i","type":"quantitative"},"y":{"field":"p","type":"quantitative"}}},
{"data":{"values":[{"i":20,"p":30120,"t":"E"}]},"mark":{"type":"text","font":"Noto Sans","fontSize":11,"color":"#26a69a","baseline":"middle","align":"center"},
"encoding":{"x":{"field":"i","type":"quantitative"},"y":{"field":"p","type":"quantitative"},"text":{"field":"t"}}},
{"data":{"values":[{"i":84,"p":30120,"t":"E"},{"i":144,"p":30120,"t":"E"},{"i":209,"p":30120,"t":"E"},{"i":267,"p":30120,"t":"E"}]},"mark":{"type":"text","font":"Noto Sans","fontSize":11,"color":"#50535e","baseline":"middle","align":"center"},
"encoding":{"x":{"field":"i","type":"quantitative"},"y":{"field":"p","type":"quantitative"},"text":{"field":"t"}}},
{"data":{"values":[{"i":179,"p":30120,"t":"D"}]},"mark":{"type":"text","font":"Noto Sans","fontSize":11,"color":"#2962ff","baseline":"middle","align":"center"},
"encoding":{"x":{"field":"i","type":"quantitative"},"y":{"field":"p","type":"quantitative"},"text":{"field":"t"}}},
{"data":{"values":[{"a":290.6,"b":298.8},{"a":298.95,"b":306.9}]},"mark":{"type":"rect","color":"#26a69a"},
"encoding":{"x":{"field":"a","type":"quantitative"},"x2":{"field":"b"},"y":{"datum":38936,"type":"quantitative"},"y2":{"datum":39257}}},
{"data":{"values":[{"i":294.7,"p":39080,"t":"078930"},{"i":302.9,"p":39080,"t":"39100"}]},"mark":{"type":"text","font":"Noto Sans","fontSize":11,"fontWeight":"bold","color":"white","baseline":"middle","align":"center"},
"encoding":{"x":{"field":"i","type":"quantitative"},"y":{"field":"p","type":"quantitative"},"text":{"field":"t"}}},
{"data":{"values":[{"a":-0.257,"b":10.2,"lo":29438,"hi":29880},{"a":298.95,"b":306.9,"lo":51950,"hi":52068}]},"mark":{"type":"rect","color":"#131722"},
"encoding":{"x":{"field":"a","type":"quantitative"},"x2":{"field":"b"},"y":{"field":"lo","type":"quantitative"},"y2":{"field":"hi"}}},
{"data":{"values":[{"i":8.6,"p":29639,"t":"2022-04-13"}]},"mark":{"type":"text","font":"Noto Sans","fontSize":11,"color":"white","baseline":"middle","align":"right"},
"encoding":{"x":{"field":"i","type":"quantitative"},"y":{"field":"p","type":"quantitative"},"text":{"field":"t"}}},
{"data":{"values":[{"a":84,"b":148,"lo":52045,"hi":52300}]},"mark":{"type":"rect","fill":"white","stroke":"#b8b8b8","strokeWidth":1.5},
"encoding":{"x":{"field":"a","type":"quantitative"},"x2":{"field":"b"},"y":{"field":"lo","type":"quantitative"},"y2":{"field":"hi"}}},
{"data":{"values":[{"p":29378}]},"mark":{"type":"rule","color":"#e0e3eb","strokeWidth":2},
"encoding":{"y":{"field":"p","type":"quantitative"},"x":{"datum":-0.257,"type":"quantitative"},"x2":{"datum":308.26}}},
{"data":{"values":[{"i":308}]},"mark":{"type":"rule","color":"#e6e6f0","strokeWidth":3},
"encoding":{"x":{"field":"i","type":"quantitative"},"y":{"datum":29378,"type":"quantitative"},"y2":{"datum":52068}}},
{"data":{"values":[{"i":303.5,"p":29639}]},"mark":{"type":"point","shape":"M -1 0 L -0.5 -0.85 L 0.5 -0.85 L 1 0 L 0.5 0.85 L -0.5 0.85 Z","size":196,"stroke":"#50535e","strokeWidth":1.2,"opacity":1},
"encoding":{"x":{"field":"i","type":"quantitative"},"y":{"field":"p","type":"quantitative"}}},
{"data":{"values":[{"i":303.5,"p":29639}]},"mark":{"type":"point","shape":"circle","size":14,"stroke":"#50535e","strokeWidth":1.2,"opacity":1},
"encoding":{"x":{"field":"i","type":"quantitative"},"y":{"field":"p","type":"quantitative"}}}
]}
],
"resolve":{"scale":{"y":"independent"}}}
